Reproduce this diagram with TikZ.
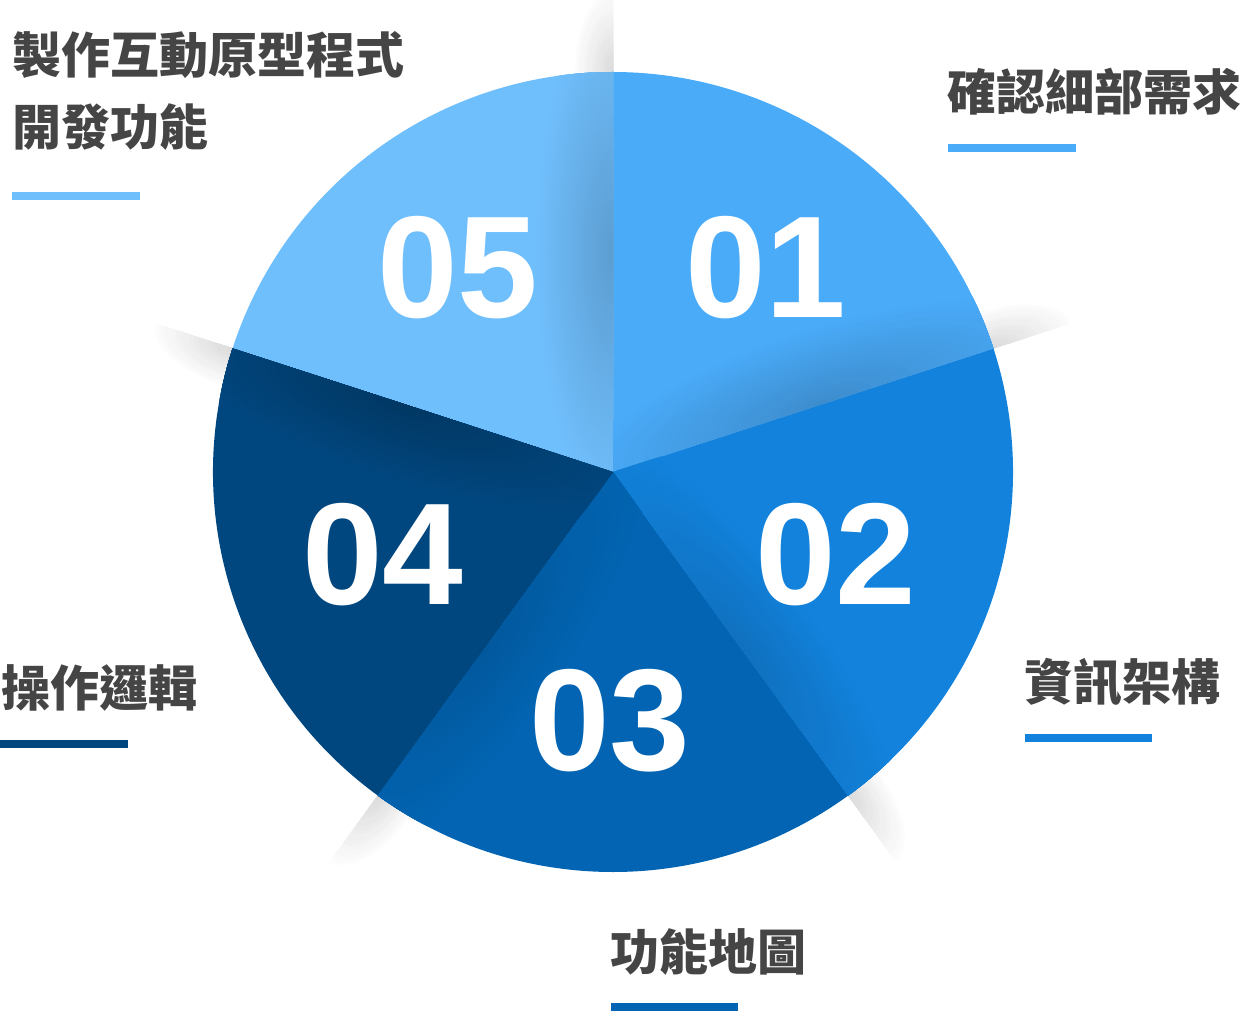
\documentclass[tikz,border=0pt]{standalone}
\usepackage{fontspec}
\setmainfont{Liberation Sans}
\newfontfamily\cjkfont{Noto Sans CJK TC}
\newfontfamily\digitfont{Liberation Sans}
\definecolor{cA}{HTML}{4AABF9}
\definecolor{cB}{HTML}{1282DC}
\definecolor{cC}{HTML}{0264B2}
\definecolor{cD}{HTML}{01477F}
\definecolor{cE}{HTML}{70BFFD}
\colorlet{shA}{cA!82!black}
\colorlet{shB}{cB!86!black}
\colorlet{shC}{cC!88!black}
\colorlet{shD}{cD!78!black}
\colorlet{shE}{cE!82!black}
\definecolor{txt}{HTML}{454545}
\tikzset{
  lbl/.style={anchor=west, inner sep=0pt, text=txt, align=left,
    font=\cjkfont\bfseries\fontsize{49}{71.5}\selectfont},
  num/.style={inner sep=0pt, text=white,
    font=\digitfont\bfseries\fontsize{145}{150}\selectfont},
}
\begin{document}
\begin{tikzpicture}[x=1pt,y=1pt]
\fill[white] (-613,-540) rectangle (631,472);
\useasboundingbox (-613,-540) rectangle (631,472);
% outer shadows
\foreach \ang in {90,18,-54,234,162} {
  \begin{scope}[rotate=\ang]
    \clip (300,0) rectangle (530,95);
    \foreach \i in {0,...,19} {
      \pgfmathsetmacro\s{1-\i/20}
      \pgfmathtruncatemacro\p{\i*15/20}
      \fill[fill=black!\p!white] (400,0) ellipse[x radius=90*\s, y radius=42*\s];
    }
  \end{scope}
}
% pie slices
\fill[cA] (0,0) -- (18:400) arc[start angle=18, end angle=90, radius=400pt] -- cycle;
\fill[cB] (0,0) -- (-54:400) arc[start angle=-54, end angle=18, radius=400pt] -- cycle;
\fill[cC] (0,0) -- (-126:400) arc[start angle=-126, end angle=-54, radius=400pt] -- cycle;
\fill[cD] (0,0) -- (162:400) arc[start angle=162, end angle=234, radius=400pt] -- cycle;
\fill[cE] (0,0) -- (90:400) arc[start angle=90, end angle=162, radius=400pt] -- cycle;
% inner shadows
\foreach \ang/\base/\sh in {90/cE/shE, 18/cA/shA, -54/cB/shB, 234/cC/shC, 162/cD/shD} {
  \begin{scope}[rotate=\ang]
    \clip (0,0) -- (0:400) arc[start angle=0, end angle=72, radius=400pt] -- cycle;
    \foreach \i in {0,...,24} {
      \pgfmathsetmacro\s{1-\i/25}
      \pgfmathtruncatemacro\p{4*\i}
      \fill[fill=\sh!\p!\base] (220,0) ellipse[x radius=260*\s, y radius=78*\s];
    }
  \end{scope}
}
% numbers
\node[num] (n05) at (-155,204) {05};
\node[num] (n01) at (153,204) {01};
\node[num] (n02) at (223,-83) {02};
\node[num] (n03) at (-3,-249) {03};
\node[num] (n04) at (-230,-83) {04};
% labels
\node[lbl] (l01) at (334,380.5) {確認細部需求};
\fill[cA] (335,328) rectangle (463,320);
\node[lbl] (l02) at (411,-210.5) {資訊架構};
\fill[cB] (412,-262) rectangle (539,-270);
\node[lbl] (l03) at (-3,-480) {功能地圖};
\fill[cC] (-2,-531) rectangle (125,-539);
\node[lbl] (l04) at (-612,-215.5) {操作邏輯};
\fill[cD] (-613,-268) rectangle (-485,-276);
\node[lbl] (l05) at (-601,381.25) {製作互動原型程式\\開發功能};
\fill[cE] (-601,280) rectangle (-473,272);
\end{tikzpicture}
\end{document}
